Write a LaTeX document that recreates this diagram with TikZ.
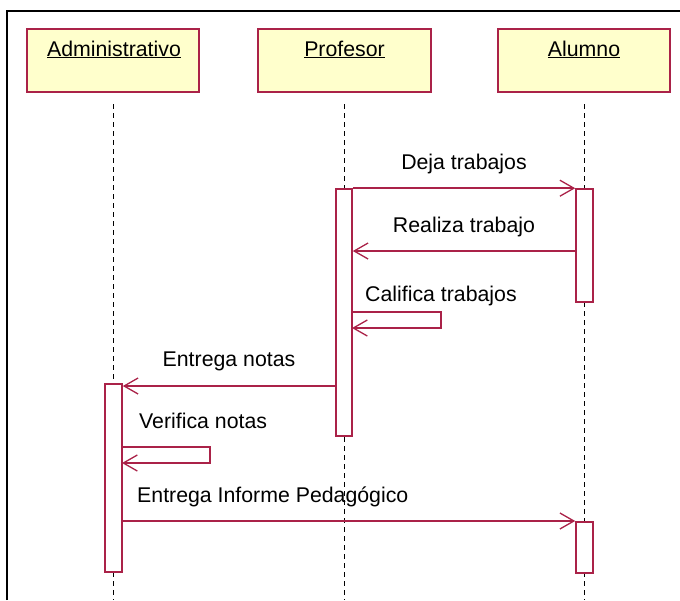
\documentclass[tikz,border=0pt]{standalone}
\usepackage{fontspec}
\setmainfont{Liberation Sans}
\usetikzlibrary{arrows.meta}
\definecolor{umlred}{RGB}{170,34,72}
\definecolor{umlyellow}{RGB}{255,255,204}
\begin{document}
\begin{tikzpicture}[x=1pt,y=-1pt,
  every node/.style={font=\fontsize{21.3}{25}\selectfont, inner sep=0pt},
  partbox/.style={draw=umlred, line width=1.6pt, fill=umlyellow, minimum width=172pt, minimum height=63pt},
  partname/.style={anchor=base},
  lifeline/.style={black, line width=1.5pt, dash pattern=on 5pt off 4pt},
  actbar/.style={draw=umlred, line width=1.6pt, fill=white, minimum width=17pt},
  msg/.style={umlred, line width=1.5pt, -{Straight Barb[length=14pt,width=16pt,line width=1.3pt]}},
  msglabel/.style={text=black}
]
\useasboundingbox (0,0) rectangle (680,600);
% frame
\draw[black, line width=2pt] (7,600) -- (7,11) -- (680,11);
% participants
\node[partbox] (adm) at (113,60.5) {};
\node[partbox, minimum width=173pt] (prof) at (344.5,60.5) {};
\node[partbox] (alu) at (584,60.5) {};
\node[partname] (admn) at (114,56) {\underline{Administrativo}};
\node[partname] (profn) at (344.5,56) {\underline{Profesor}};
\node[partname] (alun) at (584,56) {\underline{Alumno}};
% lifelines
\coordinate (admt) at (113.5,104);
\coordinate (admb) at (113.5,600);
\coordinate (proft) at (344.5,104);
\coordinate (profb) at (344.5,600);
\coordinate (alut) at (584.5,104);
\coordinate (alub) at (584.5,600);
\draw[lifeline] (admt) -- (admb);
\draw[lifeline] (proft) -- (profb);
\draw[lifeline] (alut) -- (alub);
% activation bars
\node[actbar, minimum width=16pt, minimum height=247pt] (pbar) at (344,312.5) {};
\node[actbar, minimum height=113pt] (abar1) at (584.5,245.5) {};
\node[actbar, minimum height=188pt] (admbar) at (113.5,478) {};
\node[actbar, minimum height=51pt] (abar2) at (584.5,547.5) {};
% messages
\draw[msg] (pbar.north east) -- (abar1.north west);
\node[msglabel] (l1) at (464,164) {Deja trabajos};

\coordinate (y251) at (0,251);
\draw[msg] (abar1.west |- y251) -- (pbar.east |- y251);
\node[msglabel] (l2) at (464,227) {Realiza trabajo};

\coordinate (c1a) at (352,312);
\coordinate (c1b) at (441,312);
\coordinate (c1c) at (441,328);
\coordinate (c1d) at (352,328);
\draw[msg] (c1a) -- (c1b) -- (c1c) -- (c1d);
\node[msglabel, anchor=west] (l3) at (365,296) {Califica trabajos};

\coordinate (y386) at (0,386);
\draw[msg] (pbar.west |- y386) -- (admbar.east |- y386);
\node[msglabel] (l4) at (229,361) {Entrega notas};

\coordinate (c2a) at (122,447);
\coordinate (c2b) at (210,447);
\coordinate (c2c) at (210,463);
\coordinate (c2d) at (122,463);
\draw[msg] (c2a) -- (c2b) -- (c2c) -- (c2d);
\node[msglabel, anchor=west] (l5) at (139,421) {Verifica notas};

\coordinate (y520) at (0,521);
\draw[msg] (admbar.east |- y520) -- (abar2.west |- y520);
\node[msglabel, anchor=west] (l6) at (137,497) {Entrega Informe Pedagógico};
\end{tikzpicture}
\end{document}
